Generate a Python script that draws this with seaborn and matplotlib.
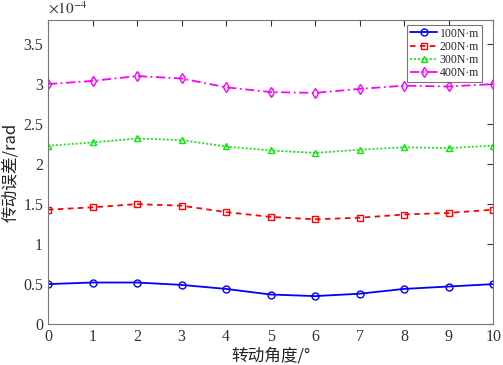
import numpy as np
import pandas as pd
import matplotlib
matplotlib.use('Agg')
import matplotlib.pyplot as plt
import seaborn as sns
from matplotlib.ticker import FormatStrFormatter, MultipleLocator

sns.set_style("white")
plt.rcParams['font.family'] = ['Liberation Serif', 'Noto Sans CJK SC', 'DejaVu Sans']
plt.rcParams['mathtext.fontset'] = 'stix'

# rotation angle (deg) and transmission error (x1e-4 rad)
angle = [0, 1, 2, 3, 4, 5, 6, 7, 8, 9, 10]
err_100 = [0.50, 0.52, 0.52, 0.49, 0.44, 0.37, 0.35, 0.38, 0.44, 0.47, 0.50]
err_200 = [1.43, 1.46, 1.50, 1.48, 1.40, 1.34, 1.31, 1.33, 1.37, 1.39, 1.43]
err_300 = [2.23, 2.27, 2.32, 2.30, 2.22, 2.17, 2.14, 2.18, 2.21, 2.20, 2.23]
err_400 = [3.00, 3.04, 3.10, 3.07, 2.96, 2.90, 2.89, 2.94, 2.98, 2.97, 3.00]
labels = ['100N·m', '200N·m', '300N·m', '400N·m']

series = [err_100, err_200, err_300, err_400]
colors = ['#0000ff', '#ff0000', '#00ee00', '#ff00ff']
styles = ['-', (0, (3, 2.5)), (0, (1, 1.2)), (0, (5, 2, 1, 2))]
markers = ['o', 's', '^', 'd']

fig = plt.figure(figsize=(5.03, 3.65), dpi=100)
ax = fig.add_axes([0.0954, 0.112, 0.885, 0.833])

for vals, lab, c, ls, m in zip(series, labels, colors, styles, markers):
    df = pd.DataFrame({'angle': angle, 'err': vals})
    sns.lineplot(data=df, x='angle', y='err', ax=ax, color=c, linestyle=ls,
                 marker=m, markersize=5, mfc='none', mec=c, mew=1.0,
                 linewidth=1.3, label=lab)

ax.set_xlim(0, 10)
ax.set_ylim(0, 3.8)
ax.xaxis.set_major_locator(MultipleLocator(1))
ax.yaxis.set_major_locator(MultipleLocator(0.5))
ax.yaxis.set_major_formatter(FormatStrFormatter('%g'))
ax.tick_params(direction='in', top=True, right=True, length=4, width=0.8,
               labelsize=11.5, colors='#333333', labelcolor='#333333')
for s in ax.spines.values():
    s.set_color('#777777')
    s.set_linewidth(0.8)

ax.set_xlabel('转动角度/°', fontsize=12, family=['Noto Sans CJK SC', 'DejaVu Sans'],
              color='#222222', labelpad=2)
ax.set_ylabel('传动误差/rad', fontsize=12, family=['Noto Sans CJK SC', 'DejaVu Sans'],
              color='#222222', labelpad=3)
ax.text(0, 1.01, r'$\times 10^{-4}$', transform=ax.transAxes, fontsize=11,
        va='bottom', ha='left', color='#333333')

leg = ax.legend(loc='upper right', bbox_to_anchor=(0.975, 0.985), fontsize=8.5,
                frameon=True, fancybox=False, edgecolor='#555555',
                handlelength=2.3, borderpad=0.25, labelspacing=0.1,
                handletextpad=0.2, borderaxespad=0.0)
leg.get_frame().set_linewidth(0.8)

fig.savefig('out.png', dpi=100)
